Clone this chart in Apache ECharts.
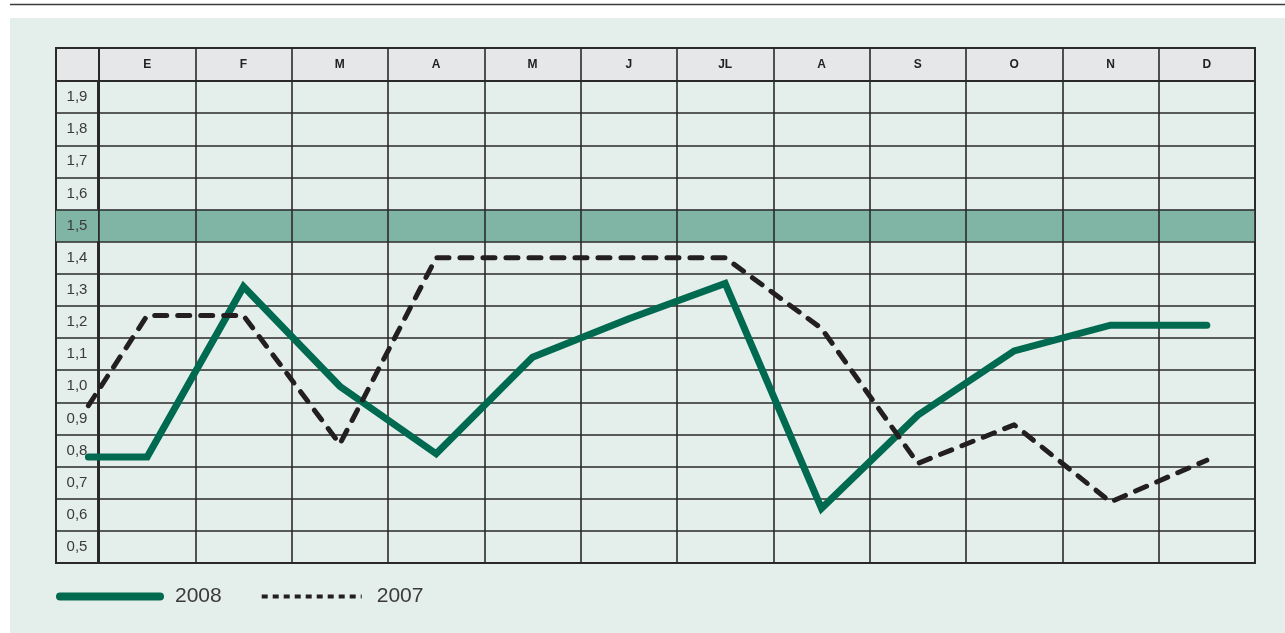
<!DOCTYPE html>
<html>
<head>
<meta charset="utf-8">
<script src="https://cdn.jsdelivr.net/npm/echarts@6/dist/echarts.min.js"></script>
<style>
html,body{margin:0;padding:0;background:#ffffff;}
#chart{width:1285px;height:633px;}
</style>
</head>
<body>
<div id="chart"></div>
<script>
// ---- data ----
var months = ['E', 'F', 'M', 'A', 'M', 'J', 'JL', 'A', 'S', 'O', 'N', 'D'];
var rowLabels = ['1,9', '1,8', '1,7', '1,6', '1,5', '1,4', '1,3', '1,2', '1,1', '1,0', '0,9', '0,8', '0,7', '0,6', '0,5'];
var highlightRow = '1,5';
// x positions in month units (0 = E); first point is the line's lead-in from the previous year
var xPos = [-0.61, 0, 1, 2, 3, 4, 5, 6, 7, 8, 9, 10, 11];
var values2008 = [0.78, 0.78, 1.31, 1.00, 0.79, 1.09, 1.21, 1.32, 0.62, 0.91, 1.11, 1.19, 1.19];
var values2007 = [0.94, 1.22, 1.22, 0.82, 1.40, 1.40, 1.40, 1.40, 1.18, 0.76, 0.88, 0.64, 0.77];

var GREEN = '#006a50';
var DARK = '#231f20';
var LINE = '#2b2a2a';
var HL = '#80b5a6';
var FONT = 'Liberation Sans';

// layout
var TABLE_LEFT = 56, LABEL_W = 43, COLS_W = 1156, HEAD_TOP = 48, HEAD_H = 33, BODY_H = 482;
var BODY_TOP = HEAD_TOP + HEAD_H, COLS_LEFT = TABLE_LEFT + LABEL_W;
var colW = COLS_W / months.length;

function pairs(xs, ys) { return xs.map(function (x, i) { return [x, ys[i]]; }); }
var areaColors = rowLabels.map(function (l) { return l === highlightRow ? HL : 'rgba(0,0,0,0)'; });

var chart = echarts.init(document.getElementById('chart'), null, {renderer: 'canvas'});

var hidden = {show: false};
var option = {
  animation: false,
  backgroundColor: '#ffffff',
  graphic: [
    {type: 'rect', z: -10, silent: true, shape: {x: 10, y: 18, width: 1275, height: 615}, style: {fill: '#e4efeb'}},
    {type: 'line', z: -10, silent: true, shape: {x1: 10, y1: 4.5, x2: 1285, y2: 4.5}, style: {stroke: '#3c3c3c', lineWidth: 1.5}}
  ],
  grid: [
    {left: COLS_LEFT, top: BODY_TOP, width: COLS_W, height: BODY_H, show: true, backgroundColor: 'transparent', borderColor: LINE, borderWidth: 2},
    {left: COLS_LEFT, top: HEAD_TOP, width: COLS_W, height: HEAD_H, show: true, backgroundColor: '#e6e7e8', borderColor: LINE, borderWidth: 2},
    {left: TABLE_LEFT, top: HEAD_TOP, width: LABEL_W, height: HEAD_H, show: true, backgroundColor: '#e6e7e8', borderColor: LINE, borderWidth: 2},
    {left: TABLE_LEFT, top: BODY_TOP, width: LABEL_W - 1, height: BODY_H, show: true, backgroundColor: 'transparent', borderColor: LINE, borderWidth: 2},
    // plotting grid: spans label column + month columns
    {left: TABLE_LEFT, top: BODY_TOP, width: LABEL_W + COLS_W, height: BODY_H, show: false}
  ],
  xAxis: [
    {gridIndex: 0, type: 'category', data: months, boundaryGap: true,
     axisLine: hidden, axisTick: hidden, axisLabel: hidden,
     splitLine: {show: true, lineStyle: {color: LINE, width: 1.6}}},
    {gridIndex: 4, type: 'value', min: -0.5 - LABEL_W / colW, max: months.length - 0.5, show: false},
    {gridIndex: 1, type: 'category', data: months, boundaryGap: true, position: 'top',
     axisLine: hidden, axisTick: hidden,
     axisLabel: {inside: true, margin: 17, verticalAlign: 'middle', fontFamily: FONT, fontWeight: 'bold', fontSize: 12, color: '#222'},
     splitLine: {show: true, lineStyle: {color: LINE, width: 1.6}}},
    {gridIndex: 2, type: 'category', data: [''], show: false},
    {gridIndex: 3, type: 'category', data: [''], show: false}
  ],
  yAxis: [
    {gridIndex: 0, type: 'category', data: rowLabels, inverse: true, boundaryGap: true,
     axisLine: hidden, axisTick: hidden, axisLabel: hidden,
     splitLine: {show: true, lineStyle: {color: LINE, width: 1.6}},
     splitArea: {show: true, areaStyle: {color: areaColors}}},
    {gridIndex: 4, type: 'value', min: 0.45, max: 1.95, show: false},
    {gridIndex: 1, type: 'category', data: [''], show: false},
    {gridIndex: 2, type: 'category', data: [''], show: false},
    {gridIndex: 3, type: 'category', data: rowLabels, inverse: true, boundaryGap: true,
     axisLine: hidden, axisTick: hidden,
     axisLabel: {inside: true, align: 'center', margin: 21, fontFamily: FONT, fontSize: 15, color: '#3a3a3a'},
     splitLine: {show: true, lineStyle: {color: LINE, width: 1.6}},
     splitArea: {show: true, areaStyle: {color: areaColors}}}
  ],
  legend: {
    left: 56, top: 586, padding: 0, itemWidth: 100, itemHeight: 16, itemGap: 38,
    itemStyle: {opacity: 0},
    textStyle: {fontFamily: FONT, fontSize: 21, color: '#3a3a3a', padding: [0, 0, 0, 10]},
    data: [
      {name: '2008', itemStyle: {opacity: 0}, lineStyle: {color: GREEN, width: 8, cap: 'round', type: 'solid'}},
      {name: '2007', itemStyle: {opacity: 0}, lineStyle: {color: DARK, width: 4, cap: 'butt', type: [6, 5]}}
    ]
  },
  series: [
    {name: '2008', type: 'line', xAxisIndex: 1, yAxisIndex: 1, data: pairs(xPos, values2008),
     symbol: 'none', z: 5,
     lineStyle: {color: GREEN, width: 7, cap: 'round', join: 'miter'}, itemStyle: {color: GREEN}},
    {name: '2007', type: 'line', xAxisIndex: 1, yAxisIndex: 1, data: pairs(xPos, values2007),
     symbol: 'none', z: 6,
     lineStyle: {color: DARK, width: 5, type: [12, 11], cap: 'round', join: 'round'}, itemStyle: {color: DARK}}
  ]
};
chart.setOption(option);
</script>
</body>
</html>
